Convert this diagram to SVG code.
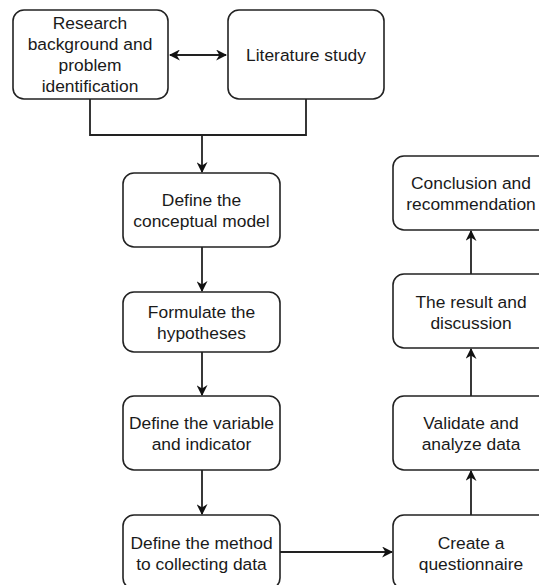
<svg xmlns="http://www.w3.org/2000/svg" width="539" height="585" viewBox="0 0 539 585">
<style>
.box{fill:#fff;stroke:#222;stroke-width:1.6}
.t{font-family:"Liberation Sans",Arial,sans-serif;font-size:17.4px;fill:#1a1a1a;text-anchor:middle}
.c{fill:none;stroke:#222;stroke-width:1.8}
</style>
<defs>
<marker id="a" viewBox="0 0 10 10" refX="9" refY="5" markerWidth="11" markerHeight="11" orient="auto-start-reverse" markerUnits="userSpaceOnUse">
<path d="M0,0 L10,5 L0,10 L3,5 Z" fill="#111"/>
</marker>
</defs>
<rect width="539" height="585" fill="#fff"/>
<g id="connectors">
<path class="c" d="M170,55 H226" marker-start="url(#a)" marker-end="url(#a)"/>
<path class="c" d="M90,99 V135 H306 V99"/>
<path class="c" d="M202,135 V172" marker-end="url(#a)"/>
<path class="c" d="M202,247 V291" marker-end="url(#a)"/>
<path class="c" d="M202,352 V395" marker-end="url(#a)"/>
<path class="c" d="M202,470 V514" marker-end="url(#a)"/>
<path class="c" d="M280,552 H392" marker-end="url(#a)"/>
<path class="c" d="M471,515 V471" marker-end="url(#a)"/>
<path class="c" d="M471,396 V349" marker-end="url(#a)"/>
<path class="c" d="M471,274 V231" marker-end="url(#a)"/>
</g>
<g id="n1"><rect class="box" x="13" y="10" width="155" height="89" rx="11"/>
<text class="t" x="90" y="29">Research</text><text class="t" x="90" y="50">background and</text><text class="t" x="90" y="71">problem</text><text class="t" x="90" y="92">identification</text></g>
<g id="n2"><rect class="box" x="228" y="10" width="156" height="89" rx="11"/>
<text class="t" x="306" y="61">Literature study</text></g>
<g id="n3"><rect class="box" x="123" y="173" width="157" height="74" rx="11"/>
<text class="t" x="201.5" y="206">Define the</text><text class="t" x="201.5" y="227">conceptual model</text></g>
<g id="n4"><rect class="box" x="123" y="292" width="157" height="60" rx="11"/>
<text class="t" x="201.5" y="318">Formulate the</text><text class="t" x="201.5" y="339">hypotheses</text></g>
<g id="n5"><rect class="box" x="123" y="396" width="157" height="74" rx="11"/>
<text class="t" x="201.5" y="429">Define the variable</text><text class="t" x="201.5" y="450">and indicator</text></g>
<g id="n6"><rect class="box" x="123" y="515" width="157" height="74" rx="11"/>
<text class="t" x="201.5" y="549">Define the method</text><text class="t" x="201.5" y="570">to collecting data</text></g>
<g id="n7"><rect class="box" x="393" y="515" width="156" height="74" rx="11"/>
<text class="t" x="471" y="549">Create a</text><text class="t" x="471" y="570">questionnaire</text></g>
<g id="n8"><rect class="box" x="393" y="396" width="156" height="74" rx="11"/>
<text class="t" x="471" y="429">Validate and</text><text class="t" x="471" y="450">analyze data</text></g>
<g id="n9"><rect class="box" x="393" y="274" width="156" height="74" rx="11"/>
<text class="t" x="471" y="308">The result and</text><text class="t" x="471" y="329">discussion</text></g>
<g id="n10"><rect class="box" x="393" y="156" width="156" height="74" rx="11"/>
<text class="t" x="471" y="189">Conclusion and</text><text class="t" x="471" y="210">recommendation</text></g>
</svg>
